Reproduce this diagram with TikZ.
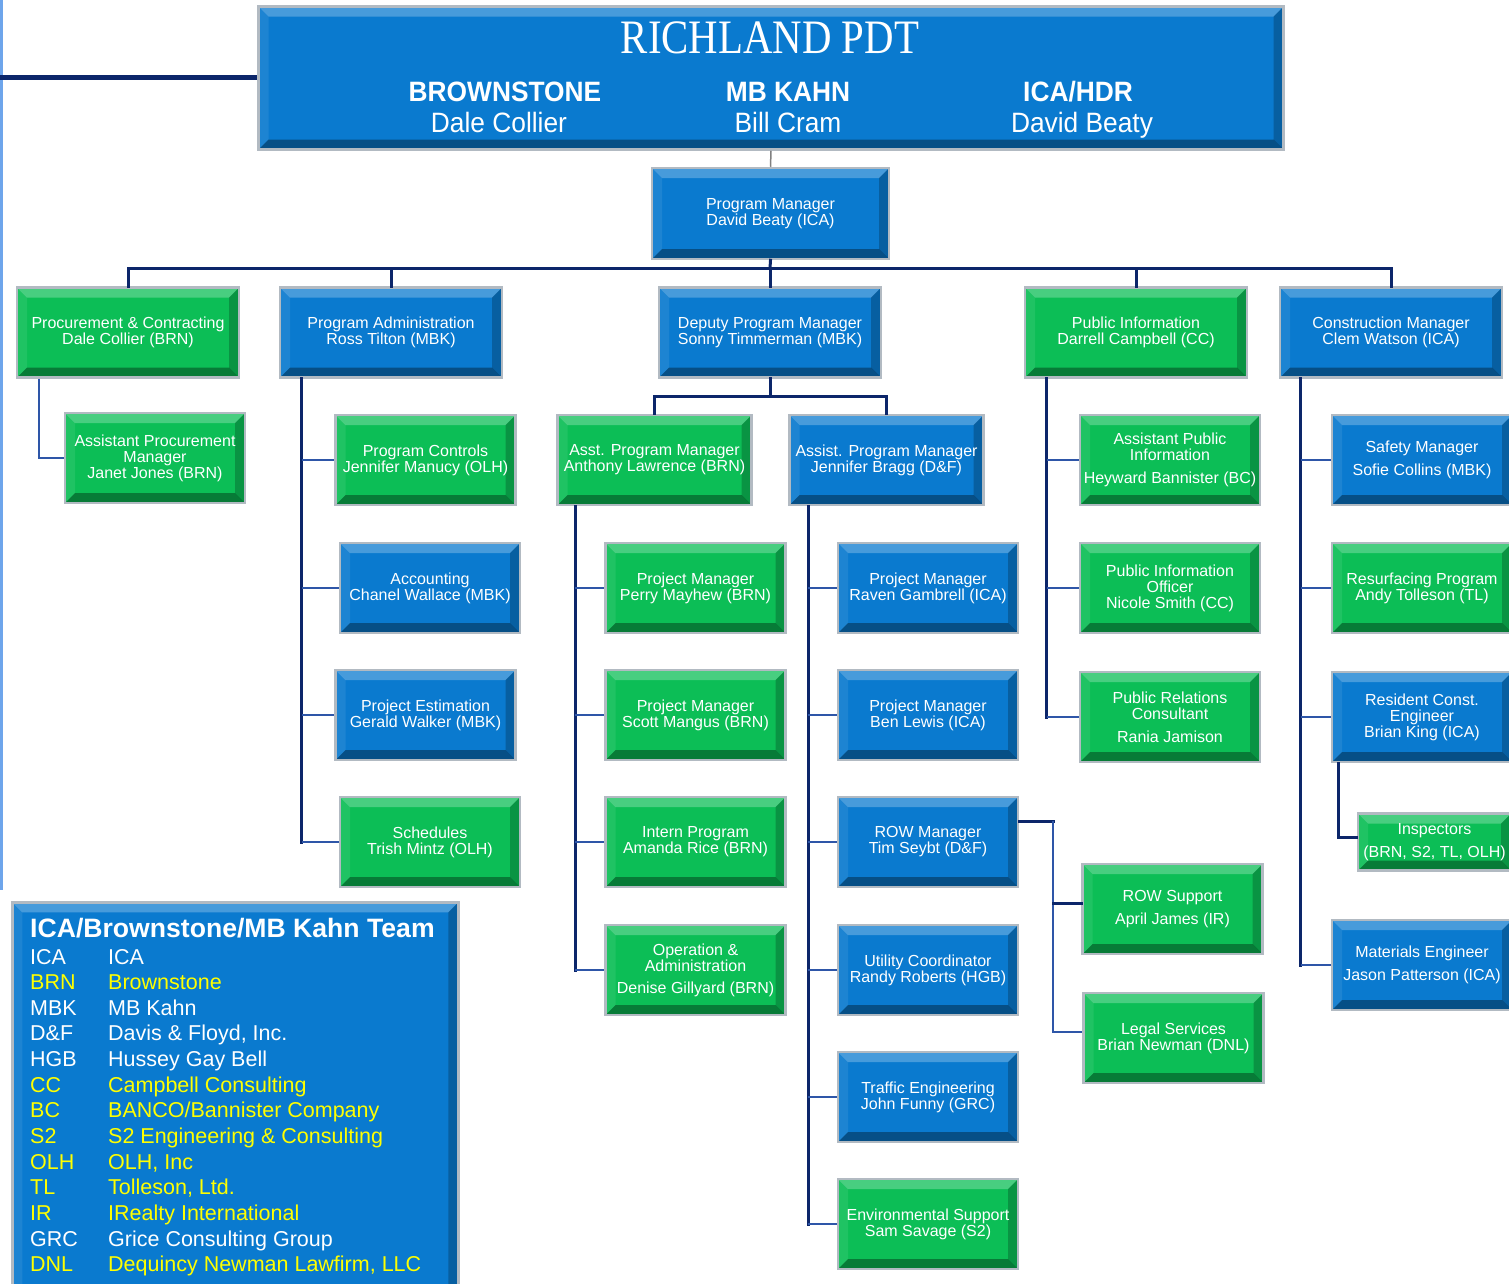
\documentclass[tikz,border=0pt]{standalone}
\usepackage{fontspec}
\setmainfont{Liberation Sans}
\newfontfamily\titlefont[FakeStretch=0.85]{Liberation Serif}
\newfontfamily\headfont[FakeStretch=0.94]{Liberation Sans}
\usepackage{tikz}

\definecolor{boxblue}{RGB}{10,122,207}
\definecolor{boxgreen}{RGB}{12,190,86}
\definecolor{rimgray}{RGB}{178,186,194}
\definecolor{navy}{RGB}{12,38,106}
\definecolor{linkblue}{RGB}{46,86,168}
\definecolor{edgeblue}{RGB}{110,165,235}
\definecolor{keyyellow}{RGB}{255,255,0}

\tikzset{
  bevelled/.style={path picture={
    \coordinate (bnw) at (path picture bounding box.north west);
    \coordinate (bne) at (path picture bounding box.north east);
    \coordinate (bsw) at (path picture bounding box.south west);
    \coordinate (bse) at (path picture bounding box.south east);
    \fill[white,opacity=0.25] (bnw) -- (bne) -- ([shift={(-10pt,-10pt)}]bne) -- ([shift={(10pt,-10pt)}]bnw) -- cycle;
    \fill[white,opacity=0.08] (bnw) -- ([shift={(10pt,-10pt)}]bnw) -- ([shift={(10pt,10pt)}]bsw) -- (bsw) -- cycle;
    \fill[black,opacity=0.35] (bsw) -- (bse) -- ([shift={(-10pt,10pt)}]bse) -- ([shift={(10pt,10pt)}]bsw) -- cycle;
    \fill[black,opacity=0.22] (bne) -- (bse) -- ([shift={(-10pt,10pt)}]bse) -- ([shift={(-10pt,-10pt)}]bne) -- cycle;
  }},
}

\begin{document}
\begin{tikzpicture}[x=1pt,y=-1pt,
    card/.style={draw=rimgray, line width=2.5pt, inner sep=1pt, align=center, text=white,
      font=\fontsize{16}{16}\selectfont, minimum width=180pt, minimum height=90pt, bevelled},
    bluecard/.style={card, fill=boxblue},
    greencard/.style={card, fill=boxgreen},
    wide/.style={minimum width=222pt},
    spine/.style={navy, line width=3pt, line cap=rect},
    branch/.style={linkblue, line width=2.5pt},
    headtext/.style={anchor=base, inner sep=0pt, text=white, font=\headfont\fontsize{28}{28}\selectfont},
    keytext/.style={anchor=base west, inner sep=0pt, font=\fontsize{21.5}{21.5}\selectfont}]

    \useasboundingbox (0,0) rectangle (1509,1283);

    % team header
    \node[bluecard, minimum width=1025pt, minimum height=143pt] (pdt) at (771,78) {};
    \node[anchor=base, inner sep=0pt, text=white, font=\titlefont\fontsize{48}{48}\selectfont] (pdtname) at (770,53) {RICHLAND PDT};
    \node[headtext] (brn) at (505,101) {\bfseries BROWNSTONE};
    \node[headtext] (brnlead) at (499,132) {Dale Collier};
    \node[headtext] (mbk) at (788,101) {\bfseries MB KAHN};
    \node[headtext] (mbklead) at (788,132) {Bill Cram};
    \node[headtext] (ica) at (1078,101) {\bfseries ICA/HDR};
    \node[headtext] (icalead) at (1082,132) {David Beaty};

    \node[bluecard, minimum width=237pt, minimum height=91pt] (pm) at (770.5,213.5) {Program Manager\\David Beaty (ICA)};

    % first level
    \node[greencard, wide] (proc) at (128,332.5) {Procurement \& Contracting\\Dale Collier (BRN)};
    \node[bluecard, wide] (padm) at (391,332.5) {Program Administration\\Ross Tilton (MBK)};
    \node[bluecard, wide] (dpm) at (770,332.5) {Deputy Program Manager\\Sonny Timmerman (MBK)};
    \node[greencard, wide] (pinfo) at (1136,332.5) {Public Information\\Darrell Campbell (CC)};
    \node[bluecard, wide] (cman) at (1391,332.5) {Construction Manager\\Clem Watson (ICA)};

    % procurement and administration
    \node[greencard] (apm) at (155,458) {Assistant Procurement\\Manager\\Janet Jones (BRN)};
    \node[greencard] (pctl) at (425.5,460) {Program Controls\\Jennifer Manucy (OLH)};
    \node[bluecard] (acct) at (430,588) {Accounting\\Chanel Wallace (MBK)};
    \node[bluecard] (pest) at (425.5,715) {Project Estimation\\Gerald Walker (MBK)};
    \node[greencard] (sched) at (430,842) {Schedules\\Trish Mintz (OLH)};

    % deputy branch
    \node[greencard, minimum width=194pt] (apml) at (654.5,460) {Asst. Program Manager\\Anthony Lawrence (BRN)};
    \node[bluecard, minimum width=194pt] (apmb) at (886.5,460) {Assist. Program Manager\\Jennifer Bragg (D\&F)};
    \node[greencard] (pmpm) at (695.5,588) {Project Manager\\Perry Mayhew (BRN)};
    \node[greencard] (pmsm) at (695.5,715) {Project Manager\\Scott Mangus (BRN)};
    \node[greencard] (intern) at (695.5,842) {Intern Program\\Amanda Rice (BRN)};
    \node[greencard] (opadm) at (695.5,970) {Operation \&\\Administration\\[6pt]Denise Gillyard (BRN)};
    \node[bluecard] (pmrg) at (928,588) {Project Manager\\Raven Gambrell (ICA)};
    \node[bluecard] (pmbl) at (928,715) {Project Manager\\Ben Lewis (ICA)};
    \node[bluecard] (rowm) at (928,842) {ROW Manager\\Tim Seybt (D\&F)};
    \node[bluecard] (util) at (928,970) {Utility Coordinator\\Randy Roberts (HGB)};
    \node[bluecard] (traffic) at (928,1097) {Traffic Engineering\\John Funny (GRC)};
    \node[greencard] (env) at (928,1224) {Environmental Support\\Sam Savage (S2)};
    \node[greencard] (rows) at (1172.5,909) {ROW Support\\[7pt]April James (IR)};
    \node[greencard] (legal) at (1173.5,1038) {Legal Services\\Brian Newman (DNL)};

    % public information
    \node[greencard] (apinfo) at (1170,460) {Assistant Public\\Information\\[7pt]Heyward Bannister (BC)};
    \node[greencard] (pio) at (1170,588) {Public Information\\Officer\\Nicole Smith (CC)};
    \node[greencard] (prc) at (1170,717) {Public Relations\\Consultant\\[7pt]Rania Jamison};

    % construction
    \node[bluecard] (safety) at (1422,460) {Safety Manager\\[7pt]Sofie Collins (MBK)};
    \node[greencard] (resurf) at (1422,588) {Resurfacing Program\\Andy Tolleson (TL)};
    \node[bluecard] (rce) at (1422,717) {Resident Const.\\Engineer\\Brian King (ICA)};
    \node[greencard, minimum width=153pt, minimum height=57pt] (insp) at (1434.5,842) {Inspectors\\[7pt](BRN, S2, TL, OLH)};
    \node[bluecard] (mateng) at (1422,965) {Materials Engineer\\[7pt]Jason Patterson (ICA)};

    % connectors
    \coordinate (offL) at (0,77);
    \coordinate (edgeT) at (1.5,0);
    \coordinate (edgeB) at (1.5,890);
    \draw[edgeblue, line width=3pt] (edgeT) -- (edgeB);
    \draw[navy, line width=5pt] (offL) -- (offL -| pdt.west);
    \draw[gray, line width=1.5pt] (pdt.south) -- (pm.north);

    \coordinate (bus) at (770,268);
    \draw[spine] (pm.south) -- (bus);
    \foreach \k in {proc,padm,dpm,pinfo,cman}
        \draw[spine] (\k.north) |- (bus);

    \coordinate (procS) at ([xshift=23pt]proc.south west);
    \draw[branch] (procS) |- (apm.west);

    \coordinate (padmS) at ([xshift=23pt]padm.south west);
    \draw[spine] (padmS) -- (padmS |- sched.west);
    \foreach \k in {pctl,acct,pest,sched}
        \draw[branch] (padmS |- \k.west) -- (\k.west);

    \coordinate (dfork) at (770,396);
    \draw[spine] (dpm.south) -- (dfork);
    \draw[spine] (apml.north) |- (dfork);
    \draw[spine] (apmb.north) |- (dfork);

    \coordinate (apmlS) at ([xshift=19pt]apml.south west);
    \draw[spine] (apmlS) -- (apmlS |- opadm.west);
    \foreach \k in {pmpm,pmsm,intern,opadm}
        \draw[branch] (apmlS |- \k.west) -- (\k.west);

    \coordinate (apmbS) at ([xshift=20pt]apmb.south west);
    \draw[spine] (apmbS) -- (apmbS |- env.west);
    \foreach \k in {pmrg,pmbl,rowm,util,traffic,env}
        \draw[branch] (apmbS |- \k.west) -- (\k.west);

    \coordinate (rowX) at (1053,821);
    \coordinate (rowsIn) at ([yshift=6pt]rows.west);
    \coordinate (legalIn) at ([yshift=6pt]legal.west);
    \draw[spine] ([yshift=21pt]rowm.east) -- (rowX);
    \draw[branch] (rowX) |- (legalIn);
    \draw[spine] (rowsIn -| rowX) -- (rowsIn);

    \coordinate (pinfoS) at ([xshift=23pt]pinfo.south west);
    \draw[spine] (pinfoS) -- (pinfoS |- prc.west);
    \foreach \k in {apinfo,pio,prc}
        \draw[branch] (pinfoS |- \k.west) -- (\k.west);

    \coordinate (cmanS) at ([xshift=22pt]cman.south west);
    \draw[spine] (cmanS) -- (cmanS |- mateng.west);
    \foreach \k in {safety,resurf,rce,mateng}
        \draw[branch] (cmanS |- \k.west) -- (\k.west);

    \coordinate (rceS) at ([xshift=8pt]rce.south west);
    \coordinate (inspIn) at ([yshift=5pt]insp.west);
    \draw[spine] (rceS) |- (inspIn);

    % company key
    \node[bluecard, minimum width=446pt, minimum height=400pt, anchor=north west] (key) at (11,901) {};
    \node[keytext, text=white, font=\bfseries\fontsize{26.6}{26.6}\selectfont] (keytitle) at (30,937) {ICA/Brownstone/MB Kahn Team};
    \foreach \ab/\nm/\col [count=\i from 0] in {ICA/ICA/white, BRN/Brownstone/keyyellow, MBK/MB Kahn/white,
        D\&F/{Davis \& Floyd, Inc.}/white, HGB/Hussey Gay Bell/white, CC/Campbell Consulting/keyyellow,
        BC/{BANCO/Bannister Company}/keyyellow, S2/{S2 Engineering \& Consulting}/keyyellow,
        OLH/{OLH, Inc}/keyyellow, TL/{Tolleson, Ltd.}/keyyellow, IR/IRealty International/keyyellow,
        GRC/Grice Consulting Group/white, DNL/{Dequincy Newman Lawfirm, LLC}/keyyellow}{
        \node[keytext, text=\col] (ab\i) at (30,964+25.65*\i) {\ab};
        \node[keytext, text=\col] (nm\i) at (108,964+25.65*\i) {\nm};
    }

\end{tikzpicture}
\end{document}
